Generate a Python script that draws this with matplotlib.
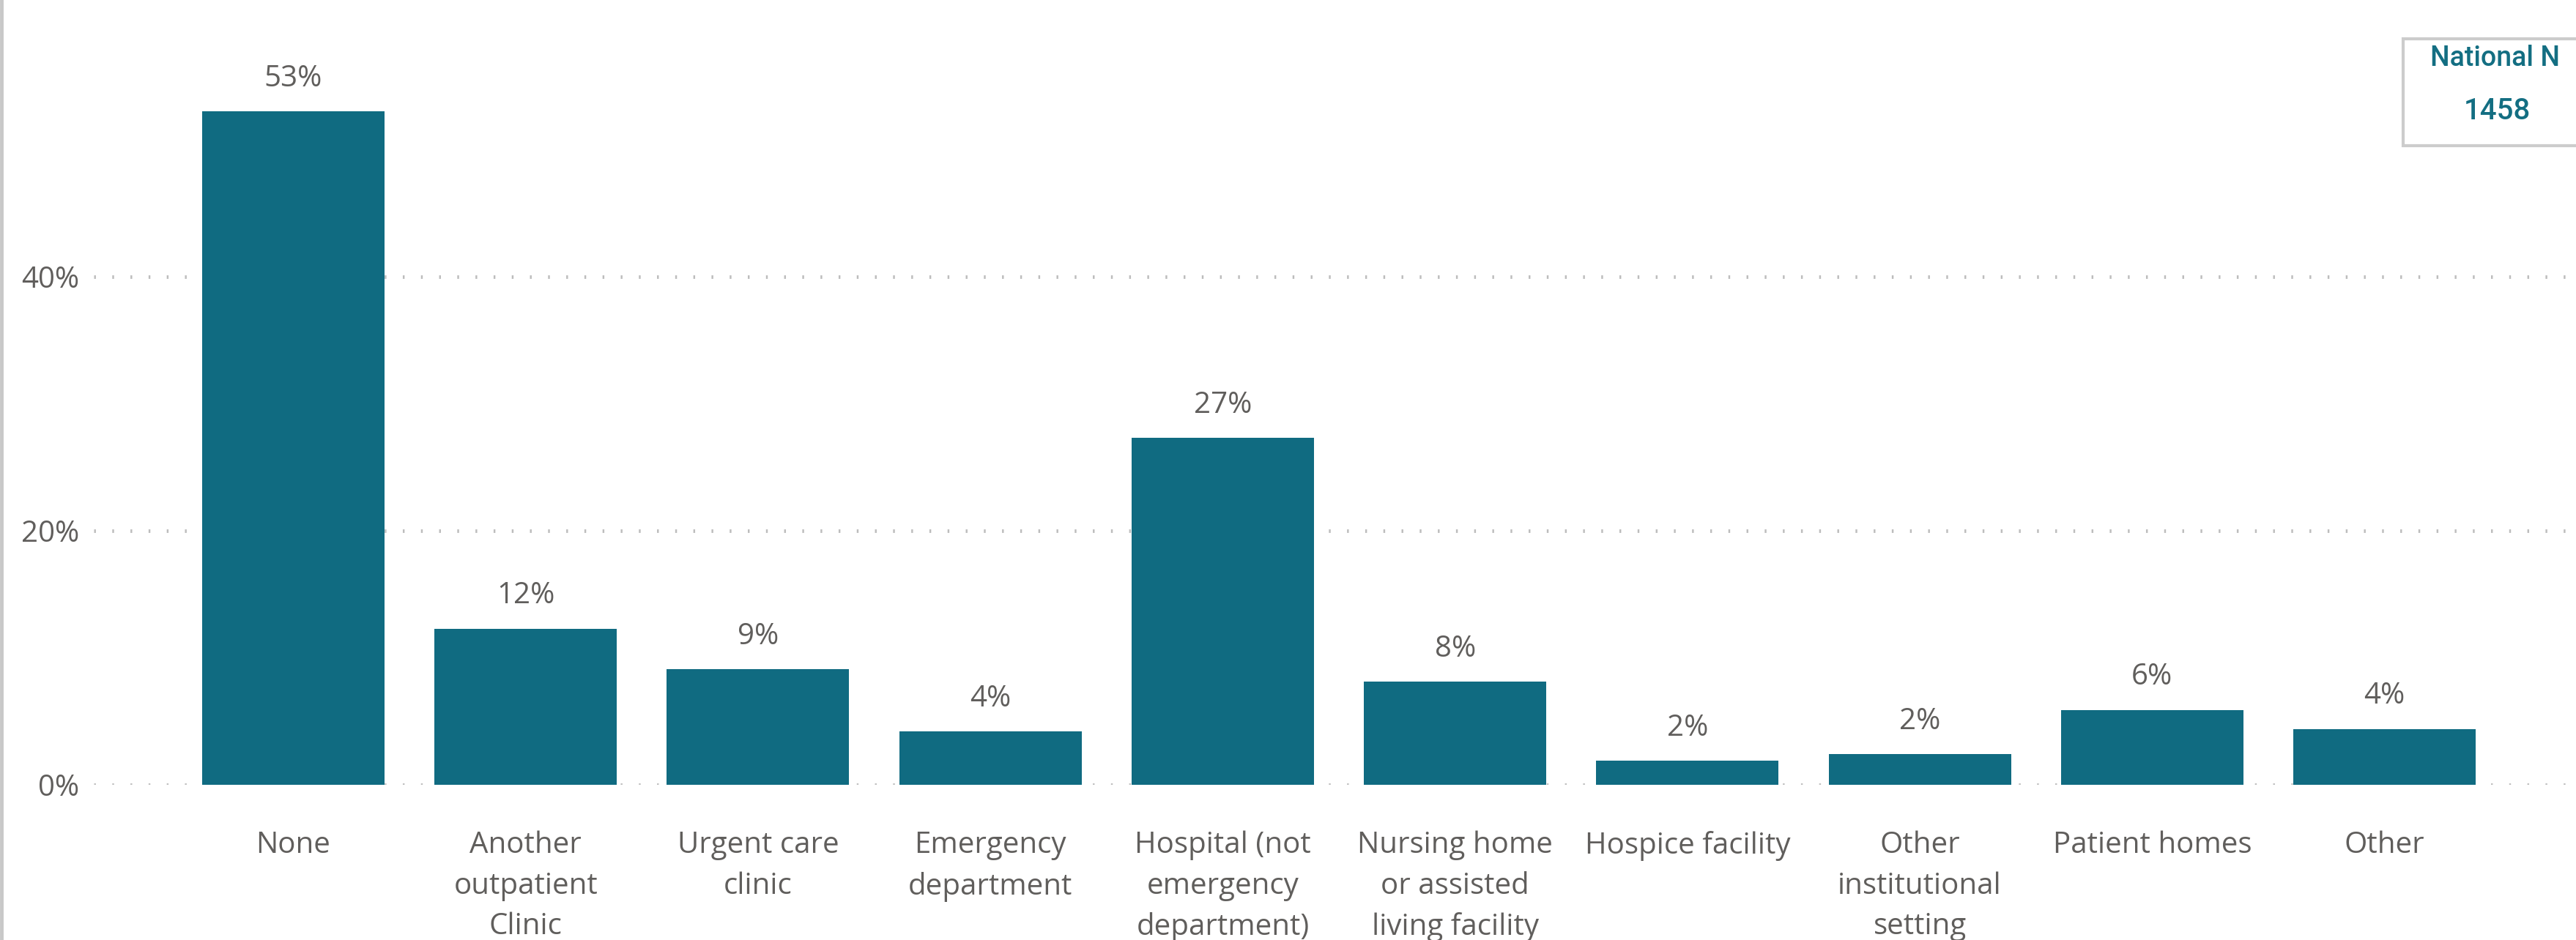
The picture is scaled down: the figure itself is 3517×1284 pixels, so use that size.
import numpy as np
import matplotlib.pyplot as plt
from matplotlib.patches import Rectangle
from matplotlib.lines import Line2D

categories = ['None', 'Another\noutpatient\nClinic', 'Urgent care\nclinic',
              'Emergency\ndepartment', 'Hospital (not\nemergency\ndepartment)',
              'Nursing home\nor assisted\nliving facility', 'Hospice facility',
              'Other\ninstitutional\nsetting', 'Patient homes', 'Other']
values = [53.0, 12.3, 9.1, 4.2, 27.3, 8.1, 1.9, 2.4, 5.9, 4.4]
value_labels = ['53%', '12%', '9%', '4%', '27%', '8%', '2%', '2%', '6%', '4%']
yticks = [0, 20, 40]
ytick_labels = ['0%', '20%', '40%']
national_n = 1458

bar_color = '#106b81'
text_gray = '#605e5c'
teal = '#136e82'

plt.rcParams['font.family'] = ['Open Sans', 'DejaVu Sans']

fig = plt.figure(figsize=(35.17, 12.84), dpi=100)
ax = fig.add_axes([128/3517, 212/1284, 1 - 128/3517, 0.757])

x = np.arange(len(categories))
ax.bar(x, values, width=0.785, color=bar_color, zorder=2)
for xi, v, lab in zip(x, values, value_labels):
    ax.text(xi, v + 1.4, lab, ha='center', va='bottom', fontsize=29, color=text_gray)

ax.set_xlim(-0.859, 9.824)
ax.set_ylim(0, 56)
ax.set_yticks(yticks)
ax.set_yticklabels(ytick_labels)
ax.set_xticks(x)
ax.set_xticklabels(categories, linespacing=1.5)
ax.tick_params(axis='y', length=0, pad=14, labelsize=29, labelcolor=text_gray)
ax.tick_params(axis='x', length=0, pad=45, labelsize=29, labelcolor=text_gray)
for t in yticks:
    ax.axhline(t, color='#bdbdbd', lw=3.5, linestyle=(0, (0.5, 4.6)), zorder=1)
for s in ax.spines.values():
    s.set_visible(False)

# left border of the visual
fig.add_artist(Line2D([0.0006, 0.0006], [0, 1], transform=fig.transFigure,
                      color='#c8c8c8', lw=3.5))

# National N card
fig.add_artist(Rectangle((3281/3517, (1284-199)/1284), 300/3517, 146/1284,
                         transform=fig.transFigure, facecolor='white',
                         edgecolor='#cccccc', lw=3))
fig.text(3407/3517, (1284-80)/1284, 'National N', ha='center', va='center',
         fontsize=27, color=teal, fontweight='medium', family=['Roboto', 'DejaVu Sans'])
fig.text(3409/3517, (1284-152)/1284, str(national_n), ha='center', va='center',
         fontsize=29, color=teal, fontweight='medium', family=['Roboto', 'DejaVu Sans'])

fig.savefig('out.png', dpi=100)
